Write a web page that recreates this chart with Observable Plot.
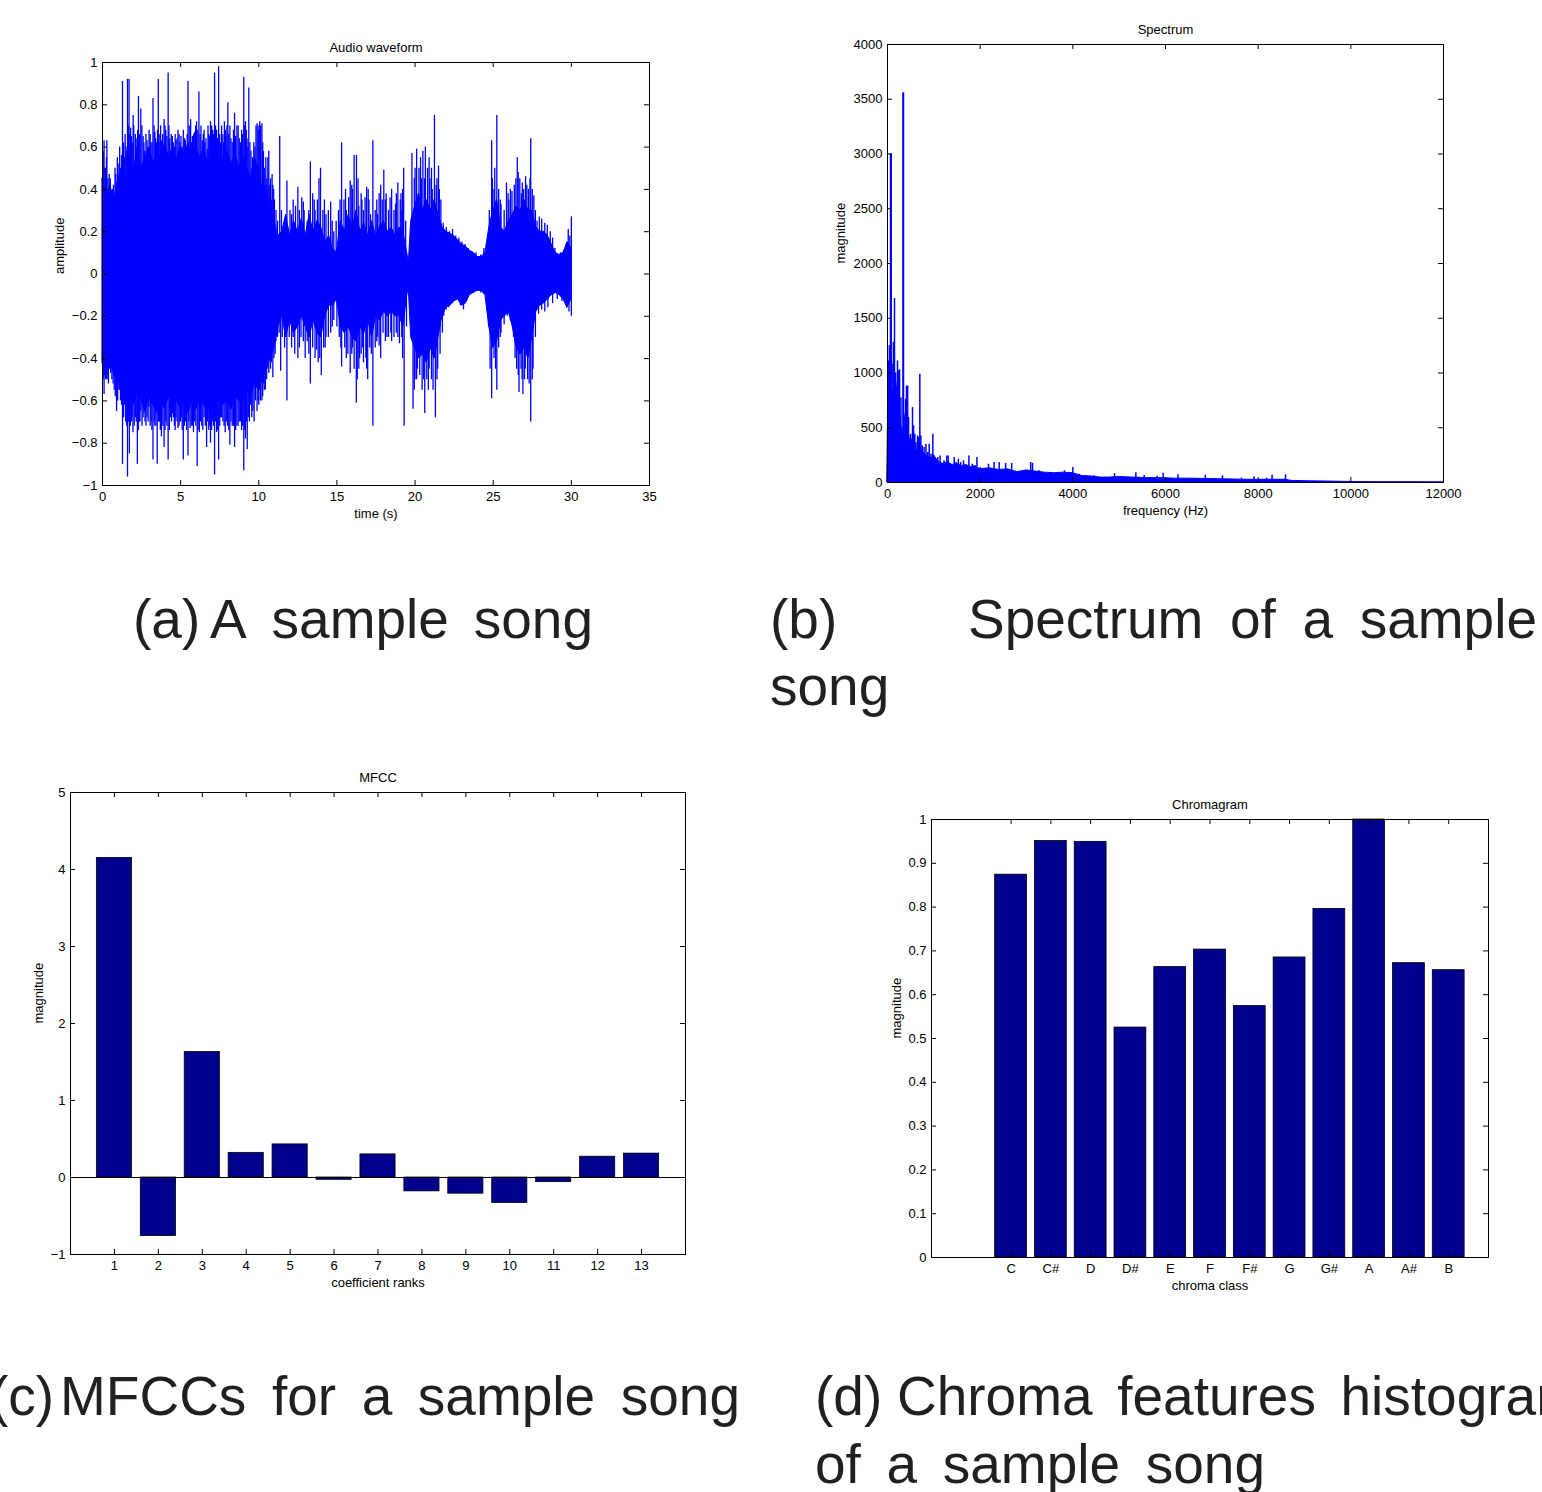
<!DOCTYPE html>
<html>
<head>
<meta charset="utf-8">
<script src="https://cdn.jsdelivr.net/npm/d3@7"></script>
<script src="https://cdn.jsdelivr.net/npm/@observablehq/plot@0.6"></script>
<style>
  html, body { margin: 0; padding: 0; background: #fff; }
  #page { position: relative; width: 1542px; height: 1492px; overflow: hidden; background: #fff; }
  #page svg { position: absolute; }
</style>
</head>
<body>
<div id="page"></div>
<script>
// ---------------- DATA ----------------
// (a) Audio waveform: dense core envelope [time s, upper, lower]
const waveCore = [
  [0,0.45,-0.42],[0.25,0.38,-0.5],[0.5,0.42,-0.4],[0.75,0.35,-0.48],[1.0,0.45,-0.5],[1.25,0.5,-0.55],[1.5,0.45,-0.6],
  [1.75,0.55,-0.52],[2.0,0.5,-0.62],[2.25,0.58,-0.55],[2.5,0.5,-0.6],[2.75,0.55,-0.65],[3.0,0.6,-0.58],[3.25,0.52,-0.62],
  [3.5,0.58,-0.66],[3.75,0.55,-0.6],[4.0,0.62,-0.64],[4.25,0.55,-0.58],[4.5,0.6,-0.65],[4.75,0.54,-0.6],[5.0,0.6,-0.63],
  [5.25,0.56,-0.6],[5.5,0.62,-0.66],[5.75,0.55,-0.6],[6.0,0.6,-0.64],[6.25,0.55,-0.6],[6.5,0.6,-0.62],[6.75,0.52,-0.65],
  [7.0,0.58,-0.6],[7.25,0.55,-0.63],[7.5,0.6,-0.58],[7.75,0.53,-0.62],[8.0,0.58,-0.6],[8.25,0.52,-0.64],[8.5,0.57,-0.58],
  [8.75,0.5,-0.6],[9.0,0.55,-0.6],[9.25,0.5,-0.55],[9.5,0.45,-0.58],[9.75,0.55,-0.52],[10.0,0.5,-0.55],[10.25,0.4,-0.5],
  [10.5,0.42,-0.45],[10.75,0.3,-0.4],[11.0,0.25,-0.35],[11.25,0.18,-0.25],[11.5,0.2,-0.2],[11.75,0.28,-0.3],[12.0,0.18,-0.22],
  [12.25,0.25,-0.28],[12.5,0.2,-0.25],[12.75,0.26,-0.2],[13.0,0.18,-0.25],[13.25,0.28,-0.3],[13.5,0.2,-0.22],[13.75,0.25,-0.28],
  [14.0,0.22,-0.3],[14.25,0.15,-0.2],[14.5,0.18,-0.15],[14.75,0.12,-0.15],[15.0,0.1,-0.12],[15.25,0.25,-0.25],[15.5,0.2,-0.28],
  [15.75,0.28,-0.25],[16.0,0.22,-0.3],[16.25,0.3,-0.32],[16.5,0.2,-0.25],[16.75,0.24,-0.28],[17.0,0.18,-0.22],[17.25,0.25,-0.3],
  [17.5,0.18,-0.2],[17.75,0.22,-0.22],[18.0,0.25,-0.18],[18.25,0.2,-0.2],[18.5,0.22,-0.18],[18.75,0.18,-0.2],[19.0,0.22,-0.2],
  [19.25,0.2,-0.25],[19.5,0.1,-0.1],[19.6,0.05,-0.07],[19.75,0.25,-0.3],[20.0,0.32,-0.35],[20.25,0.38,-0.4],[20.5,0.3,-0.38],
  [20.75,0.35,-0.42],[21.0,0.3,-0.35],[21.25,0.35,-0.4],[21.5,0.28,-0.3],[21.75,0.22,-0.2],[22.0,0.2,-0.16],[22.25,0.19,-0.15],
  [22.5,0.18,-0.13],[22.75,0.16,-0.12],[23.0,0.14,-0.15],[23.25,0.13,-0.14],[23.5,0.11,-0.1],[23.75,0.1,-0.09],[24.0,0.08,-0.08],
  [24.25,0.08,-0.08],[24.5,0.1,-0.1],[24.75,0.22,-0.25],[25.0,0.3,-0.35],[25.25,0.35,-0.32],[25.5,0.22,-0.22],[25.75,0.2,-0.2],
  [26.0,0.25,-0.18],[26.25,0.28,-0.25],[26.5,0.32,-0.35],[26.75,0.3,-0.38],[27.0,0.35,-0.35],[27.25,0.3,-0.4],[27.5,0.3,-0.3],
  [27.75,0.22,-0.18],[28.0,0.2,-0.15],[28.25,0.2,-0.14],[28.5,0.18,-0.12],[28.75,0.14,-0.1],[29.0,0.1,-0.09],[29.25,0.09,-0.1],
  [29.5,0.1,-0.12],[29.75,0.15,-0.16],[30.0,0.12,-0.12]
];
// (a) tall positive spikes [time s, amplitude]
const waveUpSpikes = [
  [0.05,0.58],[0.1,0.63],[0.2,0.5],[0.28,0.63],[0.35,0.45],[0.43,0.47],[0.57,0.39],[0.7,0.42],[0.85,0.47],[1.0,0.52],
  [1.15,0.5],[1.28,0.91],[1.4,0.55],[1.5,0.6],[1.6,0.92],[1.7,0.92],[1.8,0.69],[1.9,0.62],[1.96,0.75],[2.1,0.66],
  [2.2,0.6],[2.3,0.84],[2.45,0.78],[2.6,0.65],[2.7,0.58],[2.85,0.63],[2.98,0.68],[3.1,0.62],[3.23,0.83],[3.35,0.67],
  [3.45,0.62],[3.57,0.92],[3.67,0.66],[3.77,0.63],[3.94,0.73],[4.05,0.68],[4.2,0.95],[4.3,0.64],[4.47,0.65],[4.6,0.6],
  [4.7,0.63],[4.83,0.68],[4.95,0.62],[5.1,0.6],[5.25,0.64],[5.35,0.6],[5.47,0.91],[5.64,0.73],[5.75,0.65],[5.9,0.67],
  [6.02,0.72],[6.17,0.86],[6.3,0.7],[6.45,0.66],[6.55,0.62],[6.7,0.59],[6.8,0.66],[6.91,0.72],[7.05,0.68],[7.17,0.95],
  [7.3,0.68],[7.43,0.98],[7.55,0.62],[7.7,0.66],[7.8,0.72],[7.9,0.65],[8.02,0.81],[8.15,0.7],[8.3,0.62],[8.45,0.76],
  [8.6,0.7],[8.75,0.64],[8.9,0.68],[9.04,0.93],[9.15,0.72],[9.25,0.64],[9.36,0.88],[9.5,0.58],[9.6,0.55],[9.75,0.6],
  [9.89,0.71],[9.95,0.7],[10.06,0.72],[10.2,0.71],[10.3,0.58],[10.45,0.55],[10.64,0.58],[10.75,0.45],[10.85,0.47],[10.95,0.4],
  [11.1,0.3],[11.34,0.65],[11.45,0.3],[11.6,0.22],[11.8,0.44],[12.0,0.3],[12.2,0.35],[12.5,0.41],[12.6,0.3],[12.75,0.36],
  [12.9,0.3],[13.1,0.25],[13.3,0.53],[13.45,0.38],[13.6,0.3],[13.75,0.35],[13.85,0.45],[13.95,0.5],[14.1,0.3],[14.3,0.28],
  [14.45,0.3],[14.6,0.34],[14.8,0.2],[14.95,0.25],[15.1,0.3],[15.3,0.62],[15.45,0.35],[15.6,0.3],[15.75,0.36],[15.85,0.44],
  [16.0,0.4],[16.1,0.56],[16.25,0.56],[16.4,0.32],[16.55,0.38],[16.7,0.3],[16.9,0.41],[17.05,0.35],[17.15,0.28],[17.3,0.63],
  [17.45,0.3],[17.6,0.28],[17.8,0.42],[17.9,0.35],[18.0,0.49],[18.15,0.38],[18.3,0.3],[18.5,0.4],[18.65,0.3],[18.8,0.38],
  [18.9,0.43],[19.05,0.35],[19.15,0.3],[19.27,0.5],[19.4,0.25],[19.8,0.57],[19.95,0.45],[20.1,0.59],[20.25,0.5],[20.4,0.45],
  [20.5,0.58],[20.66,0.6],[20.8,0.5],[20.95,0.45],[21.1,0.4],[21.24,0.75],[21.35,0.42],[21.5,0.51],[21.65,0.35],[21.8,0.24],
  [22.0,0.22],[22.2,0.2],[22.4,0.21],[22.6,0.18],[22.8,0.17],[23.0,0.15],[23.2,0.14],[23.4,0.12],[23.65,0.1],[23.9,0.1],
  [24.2,0.09],[24.4,0.12],[24.6,0.15],[24.75,0.3],[24.9,0.63],[25.05,0.4],[25.23,0.75],[25.35,0.4],[25.5,0.33],[25.7,0.3],
  [25.85,0.43],[26.0,0.35],[26.2,0.39],[26.35,0.42],[26.54,0.55],[26.7,0.45],[26.86,0.43],[26.95,0.4],[27.07,0.46],[27.25,0.4],
  [27.4,0.64],[27.6,0.37],[27.7,0.3],[27.8,0.25],[27.95,0.27],[28.1,0.26],[28.3,0.24],[28.46,0.23],[28.65,0.2],[28.8,0.17],
  [28.95,0.12],[29.1,0.09],[29.3,0.1],[29.53,0.11],[29.7,0.15],[29.8,0.21],[29.9,0.18],[30.0,0.27]
];
// (a) tall negative spikes [time s, amplitude]
const waveDownSpikes = [
  [0.05,-0.5],[0.1,-0.57],[0.2,-0.45],[0.3,-0.5],[0.45,-0.45],[0.6,-0.5],[0.75,-0.55],[0.9,-0.65],[1.05,-0.55],[1.15,-0.6],
  [1.28,-0.9],[1.4,-0.62],[1.6,-0.96],[1.72,-0.85],[1.85,-0.7],[1.95,-0.75],[2.1,-0.68],[2.23,-0.9],[2.35,-0.7],[2.45,-0.65],
  [2.6,-0.68],[2.72,-0.7],[2.85,-0.68],[2.98,-0.63],[3.1,-0.7],[3.23,-0.88],[3.35,-0.72],[3.5,-0.9],[3.65,-0.7],[3.77,-0.77],
  [3.94,-0.82],[4.05,-0.7],[4.2,-0.88],[4.35,-0.68],[4.47,-0.66],[4.6,-0.72],[4.7,-0.68],[4.83,-0.73],[4.95,-0.7],[5.05,-0.68],
  [5.17,-0.88],[5.3,-0.7],[5.47,-0.86],[5.6,-0.73],[5.75,-0.72],[5.9,-0.7],[6.06,-0.91],[6.2,-0.75],[6.35,-0.72],[6.5,-0.68],
  [6.66,-0.82],[6.8,-0.74],[6.91,-0.8],[7.05,-0.7],[7.17,-0.95],[7.3,-0.75],[7.43,-0.88],[7.55,-0.68],[7.7,-0.7],[7.85,-0.75],
  [8.0,-0.72],[8.15,-0.81],[8.3,-0.72],[8.45,-0.82],[8.6,-0.72],[8.75,-0.7],[8.9,-0.74],[9.04,-0.93],[9.15,-0.78],[9.26,-0.83],
  [9.4,-0.7],[9.55,-0.68],[9.7,-0.7],[9.89,-0.65],[10.0,-0.62],[10.1,-0.6],[10.25,-0.58],[10.35,-0.55],[10.5,-0.5],[10.64,-0.47],
  [10.75,-0.45],[10.9,-0.49],[11.05,-0.38],[11.2,-0.3],[11.4,-0.46],[11.5,-0.3],[11.65,-0.35],[11.8,-0.6],[11.95,-0.3],[12.1,-0.35],
  [12.3,-0.38],[12.5,-0.4],[12.7,-0.3],[12.97,-0.4],[13.1,-0.32],[13.3,-0.52],[13.45,-0.35],[13.6,-0.4],[13.8,-0.42],[14.0,-0.48],
  [14.15,-0.35],[14.3,-0.3],[14.45,-0.3],[14.6,-0.28],[14.8,-0.22],[15.0,-0.25],[15.15,-0.3],[15.3,-0.44],[15.5,-0.35],[15.7,-0.38],
  [15.85,-0.47],[16.0,-0.35],[16.1,-0.45],[16.24,-0.61],[16.4,-0.45],[16.55,-0.38],[16.7,-0.42],[16.85,-0.4],[16.97,-0.5],[17.1,-0.35],
  [17.3,-0.72],[17.45,-0.35],[17.6,-0.3],[17.8,-0.4],[17.95,-0.28],[18.1,-0.32],[18.3,-0.3],[18.5,-0.32],[18.65,-0.3],[18.8,-0.28],
  [19.0,-0.33],[19.15,-0.3],[19.3,-0.72],[19.45,-0.25],[19.87,-0.64],[20.0,-0.5],[20.15,-0.45],[20.3,-0.48],[20.45,-0.55],[20.62,-0.66],
  [20.75,-0.5],[20.9,-0.45],[21.05,-0.5],[21.3,-0.68],[21.45,-0.45],[21.6,-0.38],[21.75,-0.28],[21.84,-0.2],[22.0,-0.17],[22.16,-0.16],
  [22.4,-0.14],[22.7,-0.12],[22.9,-0.15],[23.1,-0.17],[23.3,-0.13],[23.65,-0.09],[24.2,-0.09],[24.5,-0.1],[24.7,-0.25],[24.9,-0.59],
  [25.05,-0.4],[25.23,-0.55],[25.35,-0.35],[25.5,-0.28],[25.7,-0.24],[25.9,-0.2],[26.1,-0.22],[26.3,-0.3],[26.5,-0.45],[26.65,-0.56],
  [26.78,-0.45],[26.9,-0.57],[27.05,-0.45],[27.2,-0.5],[27.4,-0.7],[27.55,-0.45],[27.7,-0.3],[27.9,-0.19],[28.1,-0.17],[28.3,-0.18],
  [28.5,-0.16],[28.8,-0.14],[29.1,-0.12],[29.4,-0.13],[29.7,-0.16],[29.85,-0.18],[30.0,-0.2]
];
// (a) dense mid-height strokes filling the body [time s, amplitude]
const waveMidSpikes = [
  [0.15,0.5],[0.25,0.55],[0.5,0.45],[0.65,0.4],[0.8,0.5],[0.95,0.55],[1.1,0.6],[1.22,0.56],[1.35,0.62],[1.45,0.66],
  [1.55,0.58],[1.65,0.7],[1.75,0.66],[1.85,0.65],[2.0,0.7],[2.15,0.64],[2.25,0.68],[2.38,0.66],[2.52,0.7],[2.65,0.62],
  [2.78,0.66],[2.92,0.6],[3.05,0.66],[3.17,0.62],[3.3,0.7],[3.4,0.64],[3.52,0.68],[3.62,0.62],[3.72,0.7],[3.85,0.66],
  [4.0,0.7],[4.12,0.65],[4.25,0.7],[4.4,0.66],[4.53,0.62],[4.65,0.66],[4.77,0.64],[4.9,0.66],[5.02,0.65],[5.17,0.68],
  [5.3,0.63],[5.42,0.66],[5.55,0.7],[5.7,0.62],[5.83,0.66],[5.96,0.7],[6.1,0.68],[6.24,0.66],[6.38,0.63],[6.5,0.68],
  [6.62,0.64],[6.75,0.7],[6.86,0.65],[6.98,0.7],[7.1,0.66],[7.23,0.7],[7.36,0.64],[7.5,0.66],[7.62,0.7],[7.75,0.62],
  [7.86,0.68],[7.96,0.7],[8.08,0.66],[8.22,0.64],[8.38,0.68],[8.52,0.65],[8.68,0.7],[8.82,0.62],[8.97,0.66],[9.1,0.7],
  [9.2,0.68],[9.3,0.6],[9.43,0.62],[9.55,0.5],[9.68,0.62],[9.82,0.7],[10.0,0.68],[10.12,0.7],[10.25,0.62],[10.38,0.5],
  [10.52,0.45],[10.58,0.55],[10.7,0.42],[10.8,0.35],[10.9,0.42],[11.0,0.35],[11.2,0.25],
  [0.15,-0.48],[0.25,-0.42],[0.38,-0.52],[0.52,-0.47],[0.68,-0.52],[0.82,-0.58],[0.97,-0.6],[1.1,-0.55],[1.22,-0.62],[1.35,-0.68],
  [1.48,-0.7],[1.55,-0.72],[1.66,-0.7],[1.78,-0.72],[1.9,-0.68],[2.03,-0.72],[2.16,-0.7],[2.3,-0.74],[2.4,-0.7],[2.53,-0.72],
  [2.66,-0.66],[2.78,-0.72],[2.92,-0.7],[3.05,-0.72],[3.16,-0.74],[3.3,-0.7],[3.42,-0.72],[3.58,-0.7],[3.7,-0.74],[3.86,-0.72],
  [4.0,-0.74],[4.12,-0.72],[4.28,-0.74],[4.42,-0.7],[4.54,-0.68],[4.65,-0.74],[4.77,-0.7],[4.9,-0.72],[5.0,-0.7],[5.1,-0.74],
  [5.24,-0.72],[5.38,-0.74],[5.52,-0.7],[5.68,-0.72],[5.82,-0.75],[5.97,-0.72],[6.12,-0.74],[6.27,-0.7],[6.42,-0.74],[6.58,-0.72],
  [6.72,-0.7],[6.85,-0.72],[6.98,-0.74],[7.1,-0.72],[7.24,-0.7],[7.37,-0.74],[7.5,-0.72],[7.62,-0.68],[7.78,-0.72],[7.92,-0.7],
  [8.08,-0.74],[8.22,-0.7],[8.38,-0.72],[8.52,-0.74],[8.68,-0.72],[8.82,-0.7],[8.97,-0.72],[9.1,-0.74],[9.2,-0.7],[9.33,-0.68],
  [9.48,-0.62],[9.62,-0.65],[9.78,-0.6],[9.95,-0.6],[10.05,-0.55],[10.2,-0.6],[10.3,-0.52],[10.42,-0.55],[10.58,-0.45],[10.7,-0.4],
  [10.82,-0.42],[10.97,-0.4],[11.1,-0.32],[11.3,-0.28],
  [12.1,0.28],[12.35,0.32],[12.85,0.34],[13.2,0.3],[13.55,0.35],[14.2,0.35],[14.7,0.25],[15.2,0.35],[15.55,0.4],[15.95,0.42],
  [16.35,0.45],[16.6,0.35],[16.8,0.36],[17.0,0.4],[17.55,0.35],[17.7,0.38],[18.1,0.35],[18.4,0.36],[18.75,0.33],[19.1,0.38],
  [19.2,0.4],[20.0,0.5],[20.35,0.55],[20.6,0.45],[20.9,0.55],[21.05,0.5],[21.4,0.45],[21.55,0.4],
  [12.2,-0.3],[12.6,-0.35],[12.85,-0.32],[13.2,-0.38],[13.7,-0.36],[13.9,-0.4],[14.25,-0.35],[14.7,-0.25],[15.25,-0.35],[15.6,-0.4],
  [15.95,-0.38],[16.3,-0.5],[16.45,-0.4],[16.65,-0.35],[16.9,-0.45],[17.2,-0.38],[17.55,-0.32],[17.7,-0.34],[18.2,-0.3],[18.45,-0.28],
  [18.9,-0.3],[19.2,-0.4],[19.95,-0.55],[20.1,-0.5],[20.55,-0.5],[20.85,-0.55],[21.15,-0.55],[21.4,-0.5],
  [24.95,0.45],[25.1,0.5],[25.45,0.35],[25.95,0.38],[26.1,0.4],[26.45,0.45],[26.6,0.48],[26.8,0.38],[27.15,0.42],[27.35,0.45],[27.5,0.4],
  [24.8,-0.45],[25.15,-0.45],[25.45,-0.3],[26.4,-0.4],[26.6,-0.48],[26.85,-0.5],[27.0,-0.5],[27.3,-0.52],[27.5,-0.5]
];
const waveTimeTicks = [0, 5, 10, 15, 20, 25, 30, 35];
const waveAmpTicks = [-1, -0.8, -0.6, -0.4, -0.2, 0, 0.2, 0.4, 0.6, 0.8, 1];

// (b) Spectrum: body envelope [Hz, magnitude] and isolated peaks [Hz, magnitude]
const specBody = [
  [0,200],[20,1000],[40,1050],[60,900],[100,850],[140,800],[180,950],[220,800],[260,700],[300,500],
  [350,350],[380,600],[420,700],[460,450],[500,350],[540,400],[580,380],[620,300],[660,280],[700,350],
  [750,280],[800,260],[850,250],[900,230],[950,220],[1000,250],[1100,190],[1200,170],[1300,185],[1400,160],
  [1500,170],[1600,150],[1700,160],[1800,140],[1900,150],[2000,120],[2200,130],[2400,115],[2600,120],[2800,95],
  [3000,110],[3200,100],[3400,90],[3600,85],[3800,90],[4000,85],[4200,60],[4400,55],[4600,45],[4800,45],
  [5000,50],[5300,45],[5600,40],[5900,40],[6200,35],[6500,35],[6800,33],[7100,30],[7400,28],[7700,25],
  [8000,25],[8300,25],[8600,25],[8700,15],[9000,12],[9300,10],[9600,8],[10000,5],[10500,3],[11000,2],[12000,1]
];
const specPeaks = [
  [20,1110],[40,1250],[65,3000],[80,3000],[100,1080],[127,1280],[151,1680],[175,1000],[200,820],[216,1110],
  [240,1020],[260,1030],[290,775],[315,500],[335,3556],[345,3556],[370,380],[390,760],[410,880],[435,880],
  [455,593],[480,274],[500,440],[540,684],[562,517],[590,440],[615,365],[650,425],[675,410],[698,988],
  [720,425],[750,334],[790,320],[830,350],[870,274],[900,350],[940,258],[979,440],[1005,243],[1050,182],
  [1085,228],[1135,243],[1185,167],[1220,198],[1280,243],[1310,243],[1360,167],[1440,228],[1480,182],[1530,213],
  [1580,182],[1640,198],[1757,243],[1830,167],[1930,228],[2000,137],[2180,167],[2300,182],[2410,183],[2550,174],
  [2680,174],[2820,91],[3090,183],[3130,175],[3270,107],[3500,91],[3820,107],[4000,137],[4136,76],[4450,61],
  [4730,46],[4900,82],[5360,88],[5540,64],[5820,58],[5950,85],[6270,70],[6860,67],[7230,61],[7640,40],
  [7910,52],[8180,40],[8300,67],[8590,70],[8680,21],[9270,12]
];
const specFreqTicks = [0, 2000, 4000, 6000, 8000, 10000, 12000];
const specMagTicks = [0, 500, 1000, 1500, 2000, 2500, 3000, 3500, 4000];

// (c) MFCC
const mfccRanks = [1, 2, 3, 4, 5, 6, 7, 8, 9, 10, 11, 12, 13];
const mfccValues = [4.15, -0.76, 1.63, 0.32, 0.43, -0.03, 0.30, -0.18, -0.21, -0.33, -0.06, 0.27, 0.31];
const mfccTicks = [-1, 0, 1, 2, 3, 4, 5];

// (d) Chromagram
const chromaClasses = ["C", "C#", "D", "D#", "E", "F", "F#", "G", "G#", "A", "A#", "B"];
const chromaValues = [0.874, 0.951, 0.949, 0.525, 0.663, 0.703, 0.574, 0.685, 0.796, 1.0, 0.672, 0.656];
const chromaTicks = [0, 0.1, 0.2, 0.3, 0.4, 0.5, 0.6, 0.7, 0.8, 0.9, 1];

// ---------------- DRAWING ----------------
const FONT = "'Liberation Sans', Arial, Helvetica, sans-serif";
const BLUE = "#0000ff";
const NAVY = "#00008c";
const fmtG = d3.format("~g");

function panel(o) {
  const fw = o.width - o.ml - o.mr, fh = o.height - o.mt - o.mb, L = 5;
  const svg = Plot.plot({
    width: o.width, height: o.height,
    marginLeft: o.ml, marginRight: o.mr, marginTop: o.mt, marginBottom: o.mb,
    x: {type: "linear", domain: o.xDomain},
    y: {type: "linear", domain: o.yDomain},
    style: {fontFamily: FONT, fontSize: "13px", background: "none", color: "#000", overflow: "visible"},
    marks: [
      ...o.marks,
      Plot.ruleX(o.xTicks, {x: d => d, insetTop: fh - L, stroke: "#000"}),
      Plot.ruleX(o.xTicks, {x: d => d, insetBottom: fh - L, stroke: "#000"}),
      Plot.ruleY(o.yTicks, {y: d => d, insetRight: fw - L, stroke: "#000"}),
      Plot.ruleY(o.yTicks, {y: d => d, insetLeft: fw - L, stroke: "#000"}),
      Plot.axisX({ticks: o.xTicks, tickSize: 0, tickPadding: 6, tickFormat: o.xFormat, label: null}),
      Plot.axisY({ticks: o.yTicks, tickSize: 0, tickPadding: 5, tickFormat: o.yFormat, label: null}),
      Plot.frame({stroke: "#000", strokeWidth: 1}),
      Plot.text([o.title], {text: d => d, frameAnchor: "top", lineAnchor: "middle", dy: -15, fill: "#000"}),
      Plot.text([o.xlabel], {text: d => d, frameAnchor: "bottom", lineAnchor: "middle", dy: 28, fill: "#000"}),
      Plot.text([o.ylabel], {text: d => d, frameAnchor: "left", lineAnchor: "middle", rotate: -90, dx: o.ylabelDx, fill: "#000"})
    ]
  });
  svg.style.left = o.left + "px";
  svg.style.top = o.top + "px";
  return svg;
}

const page = document.getElementById("page");

// (a) Audio waveform
page.appendChild(panel({
  left: 0, top: 20, width: 710, height: 520, ml: 102, mr: 61, mt: 42, mb: 55,
  xDomain: [0, 35], yDomain: [-1, 1],
  xTicks: waveTimeTicks, yTicks: waveAmpTicks, xFormat: fmtG, yFormat: fmtG,
  title: "Audio waveform", xlabel: "time (s)", ylabel: "amplitude", ylabelDx: -43,
  marks: [
    Plot.areaY(waveCore, {x: d => d[0], y1: d => d[2], y2: d => d[1], fill: BLUE, stroke: BLUE, strokeWidth: 1}),
    Plot.ruleX(waveMidSpikes, {x: d => d[0], y1: 0, y2: d => d[1], stroke: BLUE, strokeWidth: 1.3}),
    Plot.ruleX(waveUpSpikes, {x: d => d[0], y1: 0, y2: d => d[1], stroke: BLUE, strokeWidth: 1.3}),
    Plot.ruleX(waveDownSpikes, {x: d => d[0], y1: 0, y2: d => d[1], stroke: BLUE, strokeWidth: 1.3})
  ]
}));

// (b) Spectrum
page.appendChild(panel({
  left: 780, top: 0, width: 762, height: 540, ml: 107, mr: 99, mt: 44, mb: 58,
  xDomain: [0, 12000], yDomain: [0, 4000],
  xTicks: specFreqTicks, yTicks: specMagTicks, xFormat: d3.format("d"), yFormat: d3.format("d"),
  title: "Spectrum", xlabel: "frequency (Hz)", ylabel: "magnitude", ylabelDx: -47,
  marks: [
    Plot.areaY(specBody, {x: d => d[0], y1: 0, y2: d => d[1], fill: BLUE, stroke: BLUE, strokeWidth: 1}),
    Plot.ruleX(specPeaks, {x: d => d[0], y1: 0, y2: d => d[1], stroke: BLUE, strokeWidth: 1.5})
  ]
}));

// (c) MFCC
const mfccData = mfccRanks.map((r, i) => ({r, v: mfccValues[i]}));
page.appendChild(panel({
  left: 0, top: 750, width: 720, height: 560, ml: 70, mr: 35, mt: 42, mb: 56,
  xDomain: [0, 14], yDomain: [-1, 5],
  xTicks: mfccRanks, yTicks: mfccTicks, xFormat: fmtG, yFormat: fmtG,
  title: "MFCC", xlabel: "coefficient ranks", ylabel: "magnitude", ylabelDx: -32,
  marks: [
    Plot.rect(mfccData, {x1: d => d.r - 0.4, x2: d => d.r + 0.4, y1: 0, y2: d => d.v, fill: NAVY, stroke: "#000", strokeWidth: 0.8}),
    Plot.ruleY([0], {stroke: "#000", strokeWidth: 1})
  ]
}));

// (d) Chromagram
const chromaData = chromaClasses.map((c, i) => ({i: i + 1, c, v: chromaValues[i]}));
page.appendChild(panel({
  left: 780, top: 780, width: 762, height: 540, ml: 151, mr: 54, mt: 39, mb: 63,
  xDomain: [-1, 13], yDomain: [0, 1],
  xTicks: chromaData.map(d => d.i), yTicks: chromaTicks,
  xFormat: i => chromaClasses[i - 1], yFormat: fmtG,
  title: "Chromagram", xlabel: "chroma class", ylabel: "magnitude", ylabelDx: -35,
  marks: [
    Plot.rect(chromaData, {x1: d => d.i - 0.4, x2: d => d.i + 0.4, y1: 0, y2: d => d.v, fill: NAVY, stroke: "#000", strokeWidth: 0.8})
  ]
}));

// ---------------- CAPTIONS ----------------
const cap = d3.select(page).append("svg")
  .attr("width", 1542).attr("height", 1492)
  .style("left", "0px").style("top", "0px")
  .attr("font-family", FONT).attr("font-size", 55).attr("fill", "#231f20");

function captionLine(label, labelX, words, x0, x1, baseline) {
  if (label) cap.append("text").attr("x", labelX).attr("y", baseline).text(label);
  const nodes = words.map(w => cap.append("text").attr("y", baseline).text(w));
  const widths = nodes.map(n => n.node().getComputedTextLength());
  const total = d3.sum(widths);
  const gap = (x1 != null && words.length > 1) ? (x1 - x0 - total) / (words.length - 1) : 0;
  let x = x0;
  nodes.forEach((n, i) => { n.attr("x", x); x += widths[i] + gap; });
}
captionLine("(a)", 133, ["A", "sample", "song"], 210, 593, 638);
captionLine("(b)", 770, ["Spectrum", "of", "a", "sample"], 968, 1537, 638);
captionLine(null, 0, ["song"], 770, null, 705);
captionLine("(c)", -10, ["MFCCs", "for", "a", "sample", "song"], 60, 740, 1415);
captionLine("(d)", 815, ["Chroma", "features", "histogram"], 897, 1582, 1415);
captionLine(null, 0, ["of", "a", "sample", "song"], 815, 1265, 1483);
</script>
</body>
</html>
